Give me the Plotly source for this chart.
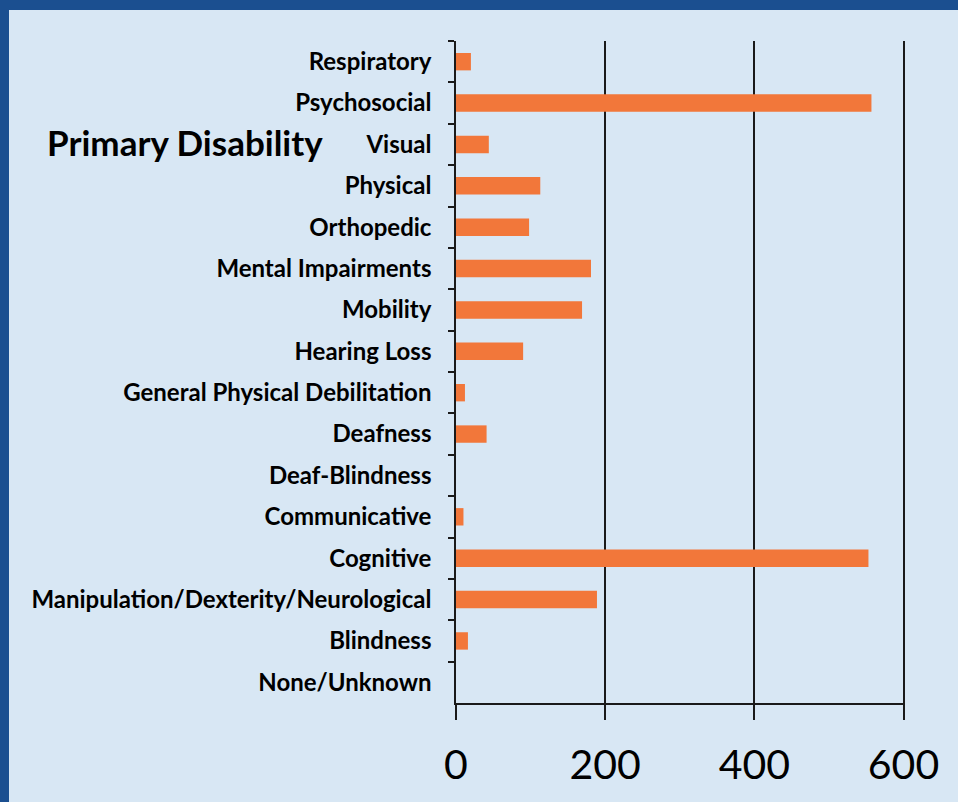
import plotly.graph_objects as go

categories = [
    "Respiratory", "Psychosocial", "Visual", "Physical", "Orthopedic",
    "Mental Impairments", "Mobility", "Hearing Loss",
    "General Physical Debilitation", "Deafness", "Deaf-Blindness",
    "Communicative", "Cognitive", "Manipulation/Dexterity/Neurological",
    "Blindness", "None/Unknown",
]
counts = [20, 557, 44, 113, 98, 181, 169, 90, 12, 41, 0, 10, 553, 189, 16, 0]
x_ticks = [0, 200, 400, 600]

W, H = 958, 802
L, R, T, B = 456, 53, 41, 99
PW, PH = W - L - R, H - T - B

fig = go.Figure(go.Bar(
    x=counts, y=categories, orientation="h",
    marker=dict(color="#f2773a", line=dict(width=0)),
    width=0.42,
))

fig.update_layout(
    width=W, height=H,
    margin=dict(l=L, r=R, t=T, b=B, pad=0),
    paper_bgcolor="#d8e7f4",
    plot_bgcolor="rgba(0,0,0,0)",
    showlegend=False,
    font=dict(family="Lato", color="black"),
    xaxis=dict(
        range=[0, 602], tickvals=x_ticks, ticktext=[str(v) for v in x_ticks],
        showgrid=True, gridcolor="#1a1a1a", gridwidth=1.5,
        showline=True, linecolor="#1a1a1a", linewidth=1.5,
        ticks="outside", ticklen=15, tickcolor="#1a1a1a", tickwidth=1.5,
        tickfont=dict(size=41, family="Lato"), zeroline=False,
        ticklabelstandoff=10,
    ),
    yaxis=dict(
        categoryorder="array", categoryarray=categories, autorange="reversed",
        showgrid=False, showline=True, linecolor="#1a1a1a", linewidth=1.5,
        ticks="outside", tickson="boundaries", ticklen=6, tickcolor="#1a1a1a",
        tickwidth=1.5,
        tickfont=dict(size=24, family="Lato", weight="bold"),
        ticklabelstandoff=18,
    ),
    shapes=[
        dict(type="rect", xref="paper", yref="paper",
             x0=-L / PW, x1=(9 - L) / PW,
             y0=-B / PH, y1=(H - B) / PH + 0.01,
             fillcolor="#1b4f90", line=dict(width=0), layer="above"),
        dict(type="rect", xref="paper", yref="paper",
             x0=-L / PW, x1=(W - L) / PW,
             y0=(H - B - 10) / PH, y1=(H - B) / PH + 0.01,
             fillcolor="#1b4f90", line=dict(width=0), layer="above"),
    ],
    annotations=[
        dict(text="<b>Primary Disability</b>", xref="paper", yref="paper",
             x=(45 - L) / PW, y=(H - B - 142) / PH,
             xanchor="left", yanchor="middle", showarrow=False,
             font=dict(size=35, family="Lato", color="black")),
    ],
)

fig.write_html("out.html", config={"displayModeBar": False},
               post_script="document.body.style.margin='0';")
